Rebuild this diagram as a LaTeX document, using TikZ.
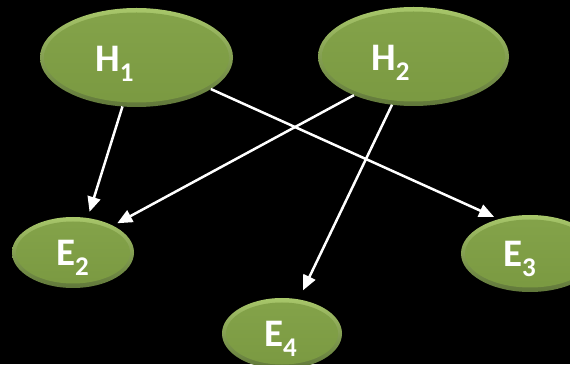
\documentclass[tikz,border=0pt]{standalone}
\usepackage{fontspec}
\setmainfont{Carlito}
\usetikzlibrary{shapes.geometric,arrows.meta}

\definecolor{rimtop}{HTML}{A8C76A}
\definecolor{rimbot}{HTML}{60773A}
\definecolor{bodytop}{HTML}{84A34A}
\definecolor{bodybot}{HTML}{7A9941}

\tikzset{
  blob/.style 2 args={
    ellipse, outer sep=0pt, inner sep=0pt,
    minimum width={2*#1pt}, minimum height={2*#2pt},
    top color=rimtop, bottom color=rimbot,
    path picture={
      \shade[top color=bodytop, bottom color=bodybot]
        (path picture bounding box.center)
        ellipse [x radius={#1pt-4pt}, y radius={#2pt-4.5pt}];
    }
  },
  lbl/.style={anchor=base west, inner sep=0pt, text=white,
    font=\bfseries\fontsize{39}{39}\selectfont},
  link/.style={draw=white, line width=2.5pt,
    -{Triangle[length=15pt,width=13pt]}}
}
\newcommand{\subidx}[1]{\raisebox{-10pt}{\fontsize{27}{27}\selectfont #1}}

\begin{document}
\begin{tikzpicture}[x=1pt,y=1pt]
  \fill[black] (0,0) rectangle (570,364);
  \useasboundingbox (0,0) rectangle (570,364);

  % hypotheses
  \node[blob={96.5}{49.5}] (H1) at (136.5,306.5) {};
  \node[blob={95.5}{49.5}] (H2) at (413.5,307.5) {};
  % evidence
  \node[blob={61}{35.5}] (E2) at (73,111.5) {};
  \node[blob={69}{38.5}] (E3) at (530,110.5) {};
  \node[blob={60}{35.5}] (E4) at (282,30.5) {};

  % labels
  \node[lbl] (H1t) at (95,292) {H\subidx{1}};
  \node[lbl] (H2t) at (371,293.3) {H\subidx{2}};
  \node[lbl] (E2t) at (56,98) {E\subidx{2}};
  \node[lbl] (E3t) at (503,97.3) {E\subidx{3}};
  \node[lbl] (E4t) at (264,17.3) {E\subidx{4}};

  % dependencies
  \draw[link, shorten >=6.5pt] (H1.254) -- (E2.67);
  \draw[link, shorten >=5pt] (H2.213) -- (E2.34);
  \draw[link, shorten >=5.5pt] (H1.337.4) -- (E3.132);
  \draw[link, shorten >=10pt] (H2.246.6) -- (E4.64);
\end{tikzpicture}
\end{document}
